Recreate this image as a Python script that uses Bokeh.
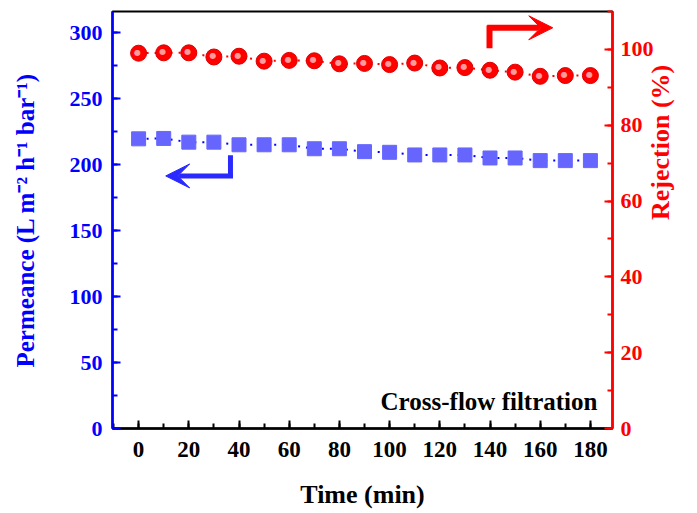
import math
from bokeh.plotting import figure
from bokeh.models import (Range1d, LinearAxis, SingleIntervalTicker, Arrow, VeeHead,
                          Label, ColumnDataSource)
from bokeh.core.properties import value
from bokeh.embed import file_html
from bokeh.resources import INLINE

# ---- data ----
time_min = [0, 10, 20, 30, 40, 50, 60, 70, 80, 90, 100, 110, 120, 130, 140, 150, 160, 170, 180]
permeance = [219.5, 219.8, 217.0, 217.0, 215.0, 215.0, 215.0, 212.0, 212.0, 209.8,
             209.3, 207.3, 207.3, 207.3, 205.0, 205.0, 203.0, 203.0, 203.0]
rejection = [99.0, 99.1, 99.1, 98.0, 98.2, 96.9, 97.1, 97.0, 96.2, 96.3,
             96.0, 96.4, 95.1, 95.2, 94.5, 94.0, 92.9, 93.1, 93.1]

x_ticks_interval = 20
left_ticks_interval = 50
right_ticks_interval = 20

# arrow annotations (data units)
blue_arrow_vertical = [36.6, 207.0, 36.6, 189.8]     # x0, y0, x1, y1 (left axis)
blue_arrow_horizontal = [37.6, 191.4, 10.8, 191.4]
red_arrow_vertical = [139.8, 100.3, 139.8, 106.3]     # right axis
red_arrow_horizontal = [138.9, 105.7, 165.0, 105.7]

FONT = "Liberation Serif"
BLUE = "#0000ff"
RED = "#ff0000"

src = ColumnDataSource(dict(t=time_min, perm=permeance, rej=rejection))

p = figure(width=697, height=513, output_backend="svg", toolbar_location=None,
           x_range=Range1d(-10.4, 188.8), y_range=Range1d(0, 316),
           min_border_left=112, min_border_right=85, min_border_top=11, min_border_bottom=85)
p.extra_y_ranges = {"right": Range1d(0, 110)}
p.grid.visible = False
p.outline_line_color = "black"
p.outline_line_width = 2
p.background_fill_color = "white"
p.border_fill_color = "white"

def style_axis(ax, color, interval):
    ax.ticker = SingleIntervalTicker(interval=interval, num_minor_ticks=2)
    ax.axis_line_color = color
    ax.axis_line_width = 2.5
    ax.major_tick_line_color = color
    ax.minor_tick_line_color = color
    ax.major_tick_line_width = 2
    ax.minor_tick_line_width = 2
    ax.major_tick_in = 8
    ax.major_tick_out = 0
    ax.minor_tick_in = 5
    ax.minor_tick_out = 0
    ax.major_label_text_color = color
    ax.major_label_text_font = FONT
    ax.major_label_text_font_style = "bold"
    ax.major_label_text_font_size = "22px"
    ax.axis_label_text_color = color
    ax.axis_label_text_font = FONT
    ax.axis_label_text_font_style = "bold"
    ax.axis_label_text_font_size = "26px"

xa = p.xaxis[0]
style_axis(xa, "black", x_ticks_interval)
xa.axis_label = "Time (min)"
xa.major_label_text_font_size = "23px"
xa.major_label_standoff = 13
xa.axis_label_standoff = 20

ya = p.yaxis[0]
style_axis(ya, BLUE, left_ticks_interval)
ya.axis_label = "Permeance (L m\u207b\u00b2 h\u207b\u00b9 bar\u207b\u00b9)"
ya.axis_label_text_font_size = "25px"
ya.major_label_standoff = 10
ya.axis_label_standoff = 28

ra = LinearAxis(y_range_name="right")
style_axis(ra, RED, right_ticks_interval)
ra.axis_label = "Rejection (%)"
ra.major_label_standoff = 8
ra.axis_label_standoff = 4
try:
    ra.axis_label_orientation = math.pi / 2   # read bottom-to-top like the reference
    ra.axis_label_text_baseline = "middle"
except Exception:
    pass
p.add_layout(ra, "right")

# permeance series
p.line("t", "perm", source=src, line_color=BLUE, line_width=2, line_dash="2 6")
p.scatter("t", "perm", source=src, marker="square", size=14,
          fill_color="#6666ff", line_color="#6666ff")

# rejection series
p.line("t", "rej", source=src, y_range_name="right", line_color=RED, line_width=2, line_dash="2 6")
p.scatter("t", "rej", source=src, y_range_name="right", marker="circle", size=16,
          fill_color=RED, line_color="#dd0000", line_width=1)
p.text("t", "rej", source=src, y_range_name="right", text=value("\u25cf"),
       text_font=value("DejaVu Sans"), text_font_size="8px", text_color="#ff9a9a",
       text_align="center", text_baseline="middle", x_offset=-1, y_offset=-1)

# arrows
p.add_layout(Arrow(end=None, x_start=blue_arrow_vertical[0], y_start=blue_arrow_vertical[1],
                   x_end=blue_arrow_vertical[2], y_end=blue_arrow_vertical[3],
                   line_color="#2a2aff", line_width=5))
p.add_layout(Arrow(end=VeeHead(size=24, fill_color="#2a2aff", line_color="#2a2aff"),
                   x_start=blue_arrow_horizontal[0], y_start=blue_arrow_horizontal[1],
                   x_end=blue_arrow_horizontal[2], y_end=blue_arrow_horizontal[3],
                   line_color="#2a2aff", line_width=5))
p.add_layout(Arrow(end=None, x_start=red_arrow_vertical[0], y_start=red_arrow_vertical[1],
                   x_end=red_arrow_vertical[2], y_end=red_arrow_vertical[3],
                   line_color=RED, line_width=6, y_range_name="right"))
p.add_layout(Arrow(end=VeeHead(size=24, fill_color=RED, line_color=RED),
                   x_start=red_arrow_horizontal[0], y_start=red_arrow_horizontal[1],
                   x_end=red_arrow_horizontal[2], y_end=red_arrow_horizontal[3],
                   line_color=RED, line_width=6, y_range_name="right"))

p.add_layout(Label(x=182.8, y=20.5, text="Cross-flow filtration", text_font=FONT,
                   text_font_style="bold", text_font_size="25px", text_color="black",
                   text_align="right", text_baseline="alphabetic"))

open("out.html", "w").write(file_html(p, INLINE))
